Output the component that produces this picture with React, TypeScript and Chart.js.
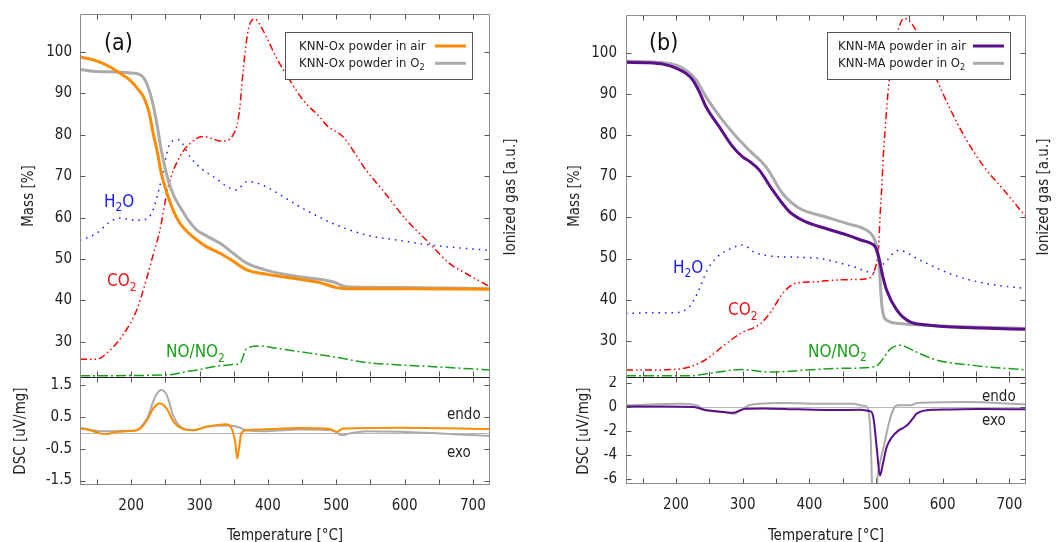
import React, { useEffect, useRef } from "react";
import { Chart, registerables } from "chart.js";
Chart.register(...registerables);

const FONT = "'DejaVu Sans Condensed', 'Liberation Sans', sans-serif";
const TXT = "#222222";
const X_MIN = 125;
const X_MAX = 725;
const xTickLabels = [200, 300, 400, 500, 600, 700];
const xTickMarks = [150, 200, 250, 300, 350, 400, 450, 500, 550, 600, 650, 700];
const massTicks = [30, 40, 50, 60, 70, 80, 90, 100];
const dscTicksA = [-1.5, -0.5, 0.5, 1.5];
const dscTicksB = [-6, -4, -2, 0, 2];

// ---------- Panel (a): KNN-Ox ----------
const aAirTemp = [125, 145, 169, 188, 198, 210, 218, 226, 232, 238, 244, 254, 262, 271, 283, 296, 310, 330, 349, 369, 400, 447, 476, 500, 510, 593, 725];
const aAirMass = [98.8, 98.1, 96.4, 94.4, 93.2, 91.0, 89.2, 85.5, 80.4, 76.0, 70.7, 65.1, 61.5, 58.7, 56.4, 54.6, 53.0, 51.4, 49.5, 47.4, 46.3, 45.1, 44.3, 43.1, 42.9, 42.8, 42.7];
const aO2Temp = [125, 149, 179, 203, 210, 215, 220, 225, 230, 237, 244, 254, 262, 271, 283, 296, 310, 330, 349, 369, 400, 447, 495, 515, 600, 725];
const aO2Mass = [95.8, 95.3, 95.2, 94.9, 94.7, 94.3, 93.3, 91.4, 88.6, 83.2, 76.3, 69.1, 65.4, 62.7, 59.5, 57.0, 55.6, 53.8, 51.4, 49.0, 47.2, 45.7, 44.5, 43.3, 43.1, 42.8];
const aCO2Temp = [125, 149, 169, 188, 208, 222, 232, 242, 254, 271, 286, 305, 320, 330, 340, 349, 355, 359, 364, 371, 381, 393, 412, 432, 452, 476, 486, 510, 544, 568, 603, 637, 666, 690, 725];
const aCO2 = [25.8, 25.8, 28.0, 31.7, 37.7, 45.0, 51.0, 57.0, 67.5, 74.7, 77.9, 79.6, 79.0, 78.5, 78.6, 80.0, 82.5, 86.8, 96.0, 105.2, 108.0, 105.2, 98.8, 93.2, 88.3, 84.3, 82.3, 79.5, 71.4, 66.6, 59.4, 53.7, 48.9, 46.5, 43.3];
const aH2OTemp = [125, 149, 169, 184, 203, 213, 225, 232, 244, 257, 269, 286, 300, 320, 354, 369, 378, 398, 447, 495, 544, 593, 642, 725];
const aH2O = [54.5, 56.2, 59.0, 59.9, 59.4, 59.4, 60.0, 61.9, 69.1, 78.0, 78.8, 74.7, 72.2, 69.9, 66.7, 68.7, 68.6, 67.4, 62.6, 58.6, 55.8, 54.5, 53.3, 52.1];
const aNOTemp = [125, 252, 281, 300, 320, 349, 359, 369, 388, 398, 447, 495, 544, 593, 642, 725];
const aNO = [21.8, 22.0, 22.8, 23.3, 24.0, 24.5, 24.8, 28.4, 29.0, 28.8, 27.6, 26.4, 25.0, 24.4, 24.0, 23.2];
const aDscAirTemp = [125, 140, 154, 164, 179, 203, 213, 223, 232, 242, 252, 262, 274, 291, 310, 339, 347, 352, 355, 358, 361, 369, 398, 447, 491, 500, 510, 593, 725];
const aDscAir = [0.13, 0.08, -0.02, -0.04, 0.03, 0.06, 0.13, 0.39, 0.76, 0.92, 0.76, 0.34, 0.13, 0.08, 0.19, 0.27, 0.13, -0.28, -0.81, -0.44, -0.02, 0.08, 0.11, 0.15, 0.12, 0.02, 0.13, 0.16, 0.12];
const aDscO2Temp = [125, 154, 203, 223, 235, 244, 252, 262, 274, 291, 310, 344, 359, 369, 398, 447, 495, 508, 520, 544, 593, 725];
const aDscO2 = [0.16, 0.05, 0.06, 0.45, 1.13, 1.34, 1.18, 0.50, 0.16, 0.08, 0.19, 0.23, 0.16, 0.08, 0.05, 0.10, 0.08, -0.08, -0.02, 0.05, 0.03, -0.1];

// ---------- Panel (b): KNN-MA ----------
const bAirTemp = [125, 157, 182, 200, 215, 225, 235, 245, 265, 285, 300, 312, 325, 345, 370, 395, 425, 457, 477, 492, 499, 504, 510, 516, 531, 551, 581, 607, 657, 725];
const bAirMass = [97.7, 97.6, 97.2, 96.3, 95.0, 93.4, 90.5, 86.9, 82.0, 77.2, 74.7, 73.4, 71.5, 66.6, 61.4, 58.9, 57.3, 55.7, 54.5, 53.7, 52.8, 50.4, 45.8, 42.3, 37.5, 34.6, 33.8, 33.4, 33.1, 32.8];
const bO2Temp = [125, 182, 200, 215, 230, 245, 270, 295, 310, 335, 360, 385, 425, 457, 486, 496, 500, 504, 509, 516, 536, 572, 725];
const bO2Mass = [98.0, 97.6, 97.0, 95.8, 93.5, 89.3, 83.6, 78.8, 76.3, 72.3, 65.8, 62.2, 60.1, 58.5, 56.9, 55.3, 53.5, 49.6, 38.3, 35.0, 34.2, 33.8, 33.0];
const bCO2Temp = [125, 157, 192, 222, 247, 272, 297, 327, 342, 362, 382, 407, 432, 467, 486, 496, 502, 504, 506, 509, 511, 514, 519, 527, 534, 542, 557, 572, 596, 612, 634, 662, 692, 725];
const bCO2 = [22.9, 22.9, 23.0, 23.7, 25.7, 28.9, 31.8, 34.2, 37.0, 41.9, 44.1, 44.3, 44.7, 44.9, 45.1, 46.4, 50.0, 53.0, 60.0, 68.3, 75.0, 82.0, 92.0, 101.0, 106.0, 108.4, 106.3, 100.6, 91.7, 86.1, 79.3, 72.3, 66.6, 60.1];
const bH2OTemp = [125, 157, 192, 217, 232, 247, 262, 282, 300, 317, 332, 382, 416, 466, 496, 512, 534, 566, 616, 666, 725];
const bH2O = [36.6, 36.8, 36.8, 37.8, 41.5, 47.2, 50.4, 52.4, 53.3, 51.6, 50.8, 50.3, 50.0, 48.0, 46.6, 48.8, 52.0, 49.6, 46.0, 43.9, 42.7];
const bNOTemp = [125, 222, 247, 297, 342, 397, 447, 499, 509, 520, 536, 560, 591, 641, 725];
const bNO = [21.5, 21.5, 22.0, 23.0, 22.4, 22.9, 23.3, 23.7, 25.3, 27.8, 28.9, 27.3, 25.3, 24.1, 22.9];
const bDscAirTemp = [125, 182, 227, 242, 257, 272, 287, 294, 304, 332, 382, 432, 477, 487, 493.5, 497, 501, 506, 510, 516, 524, 534, 542, 549, 556, 561, 586, 607, 657, 725];
const bDscAir = [0.05, 0.05, 0, -0.22, -0.33, -0.42, -0.47, -0.33, -0.14, -0.11, -0.19, -0.25, -0.22, -0.3, -0.42, -1.2, -3.33, -5.69, -4.8, -3.33, -2.5, -1.94, -1.7, -1.39, -0.9, -0.55, -0.22, -0.2, -0.17, -0.19];
const bDscO2Temp = [125, 207, 232, 242, 272, 287, 297, 312, 357, 432, 467, 477, 484, 489, 492, 495, 499, 503, 511.5, 520, 527, 533, 552, 562, 632, 725];
const bDscO2 = [0.14, 0.28, 0.14, -0.22, -0.42, -0.56, -0.28, 0.19, 0.33, 0.28, 0.28, 0.14, 0.1, -0.4, -2.5, -7.5, -7.5, -5.5, -3.33, -1.2, -0.1, 0.14, 0.14, 0.33, 0.42, 0.22];

const ORANGE = "#ff8c00";
const PURPLE = "#5a0f8c";
const GRAY = "#ababab";
const RED = "#ff0000";
const BLUE = "#1a1aff";
const GREEN = "#19a019";
const FRAME = "#8c8c8c";
const TICK = "#555555";

const RED_DASH = [7, 3, 1.5, 3, 1.5, 3];
const BLUE_DOT = [1.5, 5];
const GREEN_DASH = [10, 3, 2, 3];

type Part = { t: string; sub?: boolean };
type TextItem = { parts: Part[]; x: number; y: number; size: number; color: string; rotate?: boolean; center?: boolean };
type LegendSpec = { box: [number, number, number, number]; textX: number; baselines: number[]; lineX: [number, number]; lineY: number[]; items: { parts: Part[]; color: string }[] };

function pts(T: number[], V: number[]) {
  return T.map((t, i) => ({ x: t, y: V[i] }));
}
function series(label: string, T: number[], V: number[], color: string, width: number, dash: number[] = []) {
  return {
    label,
    data: pts(T, V),
    borderColor: color,
    backgroundColor: color,
    borderWidth: width,
    borderDash: dash,
    pointRadius: 0,
    cubicInterpolationMode: "monotone",
    fill: false,
  };
}

function drawRich(ctx: CanvasRenderingContext2D, parts: Part[], x: number, y: number, size: number, color: string, center = false) {
  let total = 0;
  for (const p of parts) {
    ctx.font = `${p.sub ? size * 0.7 : size}px ${FONT}`;
    total += ctx.measureText(p.t).width;
  }
  let cx = center ? x - total / 2 : x;
  ctx.fillStyle = color;
  ctx.textAlign = "left";
  ctx.textBaseline = "alphabetic";
  for (const p of parts) {
    ctx.font = `${p.sub ? size * 0.7 : size}px ${FONT}`;
    ctx.fillText(p.t, cx, p.sub ? y + size * 0.28 : y);
    cx += ctx.measureText(p.t).width;
  }
}

type Spec = {
  key: string;
  ox: number; oy: number; w: number; h: number;
  padding: { left: number; top: number; right: number; bottom: number };
  yMin: number; yMax: number; yTicks: number[]; yAxisWidth: number; yPad: number;
  showX: boolean; xAxisHeight: number;
  datasets: any[];
  zeroLine?: boolean;
  topBlack?: boolean; noBottom?: boolean;
  texts: TextItem[];
  legend?: LegendSpec;
};

function decor(s: Spec) {
  return {
    id: "decor" + s.key,
    beforeDatasetsDraw(chart: any) {
      if (!s.zeroLine) return;
      const { ctx, chartArea: a, scales } = chart;
      const y = Math.round(scales.y.getPixelForValue(0)) + 0.5;
      ctx.save();
      ctx.strokeStyle = "#b9b9b9";
      ctx.lineWidth = 1;
      ctx.beginPath();
      ctx.moveTo(a.left, y);
      ctx.lineTo(a.right, y);
      ctx.stroke();
      ctx.restore();
    },
    afterDatasetsDraw(chart: any) {
      const { ctx, chartArea: a, scales } = chart;
      ctx.save();
      ctx.lineWidth = 1;
      const L = Math.round(a.left) + 0.5;
      const R = Math.round(a.right) - 0.5;
      const T = Math.round(a.top) + 0.5;
      const B = Math.round(a.bottom) - 0.5;
      const seg = (x1: number, y1: number, x2: number, y2: number, c: string) => {
        ctx.strokeStyle = c;
        ctx.beginPath();
        ctx.moveTo(x1, y1);
        ctx.lineTo(x2, y2);
        ctx.stroke();
      };
      seg(L, T, L, B + 0.5, FRAME);
      seg(R, T, R, B + 0.5, FRAME);
      seg(L, T, R, T, s.topBlack ? "#1e1e1e" : FRAME);
      if (!s.noBottom) seg(L, B, R, B, FRAME);
      const tl = 5;
      for (const v of xTickMarks) {
        const px = Math.round(scales.x.getPixelForValue(v)) + 0.5;
        seg(px, T, px, T + tl, TICK);
        seg(px, B, px, B - tl, TICK);
      }
      for (const v of s.yTicks) {
        const py = Math.round(scales.y.getPixelForValue(v)) + 0.5;
        seg(L, py, L + tl, py, TICK);
        seg(R, py, R - tl, py, TICK);
      }
      // legend
      if (s.legend) {
        const lg = s.legend;
        const [bx, by, bw, bh] = lg.box;
        ctx.fillStyle = "#ffffff";
        ctx.fillRect(bx - s.ox, by - s.oy, bw, bh);
        ctx.strokeStyle = "#555";
        ctx.strokeRect(bx - s.ox + 0.5, by - s.oy + 0.5, bw - 1, bh - 1);
        lg.items.forEach((it, i) => {
          drawRich(ctx, it.parts, lg.textX - s.ox, lg.baselines[i] - s.oy, 13, TXT);
          ctx.strokeStyle = it.color;
          ctx.lineWidth = 3;
          ctx.beginPath();
          ctx.moveTo(lg.lineX[0] - s.ox, lg.lineY[i] - s.oy);
          ctx.lineTo(lg.lineX[1] - s.ox, lg.lineY[i] - s.oy);
          ctx.stroke();
          ctx.lineWidth = 1;
        });
      }
      // texts
      for (const t of s.texts) {
        if (t.rotate) {
          ctx.save();
          ctx.translate(t.x - s.ox, t.y - s.oy);
          ctx.rotate(-Math.PI / 2);
          ctx.font = `${t.size}px ${FONT}`;
          ctx.fillStyle = t.color;
          ctx.textAlign = "center";
          ctx.textBaseline = "middle";
          ctx.fillText(t.parts.map((p) => p.t).join(""), 0, 0);
          ctx.restore();
        } else {
          drawRich(ctx, t.parts, t.x - s.ox, t.y - s.oy, t.size, t.color, t.center);
        }
      }
      ctx.restore();
    },
  };
}

function buildConfig(s: Spec): any {
  return {
    type: "line",
    data: { datasets: s.datasets },
    options: {
      animation: false,
      responsive: false,
      devicePixelRatio: 1,
      events: [],
      layout: { padding: s.padding },
      plugins: { legend: { display: false }, tooltip: { enabled: false } },
      scales: {
        x: {
          type: "linear",
          min: X_MIN,
          max: X_MAX,
          display: s.showX,
          grid: { display: false, drawTicks: false },
          border: { display: false },
          afterBuildTicks: (sc: any) => {
            sc.ticks = xTickLabels.map((v) => ({ value: v }));
          },
          afterFit: (sc: any) => {
            sc.height = s.xAxisHeight;
            sc.paddingLeft = 0;
            sc.paddingRight = 0;
            sc.paddingTop = 0;
            sc.paddingBottom = 0;
          },
          ticks: {
            font: { family: FONT, size: 15 },
            color: TXT,
            padding: 12,
            autoSkip: false,
            maxRotation: 0,
            callback: (v: any) => String(v),
          },
        },
        y: {
          type: "linear",
          min: s.yMin,
          max: s.yMax,
          grid: { display: false, drawTicks: false },
          border: { display: false },
          afterBuildTicks: (sc: any) => {
            sc.ticks = s.yTicks.map((v) => ({ value: v }));
          },
          afterFit: (sc: any) => {
            sc.width = s.yAxisWidth;
            sc.paddingLeft = 0;
            sc.paddingRight = 0;
            sc.paddingTop = 0;
            sc.paddingBottom = 0;
          },
          ticks: {
            font: { family: FONT, size: 15 },
            color: TXT,
            padding: s.yPad,
            autoSkip: false,
            callback: (v: any) => String(v),
          },
        },
      },
    },
    plugins: [decor(s)],
  };
}

const P = (t: string, sub?: boolean): Part => ({ t, sub });

const specs: Spec[] = [
  {
    key: "aTop", ox: 0, oy: 0, w: 525, h: 378,
    padding: { left: 0, top: 14, right: 35, bottom: 1 },
    yMin: 21.5, yMax: 109.2, yTicks: massTicks, yAxisWidth: 80, yPad: 8,
    showX: false, xAxisHeight: 0, noBottom: true,
    datasets: [
      series("KNN-Ox powder in air", aAirTemp, aAirMass, ORANGE, 3),
      series("KNN-Ox powder in O2", aO2Temp, aO2Mass, GRAY, 3),
      series("CO2", aCO2Temp, aCO2, RED, 1.5, RED_DASH),
      series("H2O", aH2OTemp, aH2O, BLUE, 1.5, BLUE_DOT),
      series("NO/NO2", aNOTemp, aNO, GREEN, 1.5, GREEN_DASH),
    ],
    texts: [
      { parts: [P("Mass [%]")], x: 29, y: 196, size: 15, color: TXT, rotate: true },
      { parts: [P("Ionized gas [a.u.]")], x: 511, y: 197, size: 15, color: TXT, rotate: true },
      { parts: [P("(a)")], x: 104, y: 49.5, size: 23, color: "#111" },
      { parts: [P("H"), P("2", true), P("O")], x: 104, y: 206.7, size: 17, color: BLUE },
      { parts: [P("CO"), P("2", true)], x: 107, y: 286, size: 17, color: "#ee1111" },
      { parts: [P("NO/NO"), P("2", true)], x: 166, y: 357, size: 17, color: GREEN },
    ],
    legend: {
      box: [285, 32, 188, 48], textX: 299, baselines: [49.5, 66.5], lineX: [435, 466], lineY: [46, 63.3],
      items: [
        { parts: [P("KNN-Ox powder in air")], color: ORANGE },
        { parts: [P("KNN-Ox powder in O"), P("2", true)], color: GRAY },
      ],
    },
  },
  {
    key: "aDsc", ox: 0, oy: 376, w: 525, h: 166,
    padding: { left: 0, top: 1, right: 35, bottom: 0 },
    yMin: -1.64, yMax: 1.75, yTicks: dscTicksA, yAxisWidth: 80, yPad: 8,
    showX: true, xAxisHeight: 57, zeroLine: true, topBlack: true,
    datasets: [
      series("KNN-Ox powder in air", aDscAirTemp, aDscAir, ORANGE, 2),
      series("KNN-Ox powder in O2", aDscO2Temp, aDscO2, GRAY, 2),
    ],
    texts: [
      { parts: [P("DSC [uV/mg]")], x: 21, y: 431, size: 15, color: TXT, rotate: true },
      { parts: [P("Temperature [°C]")], x: 285, y: 540, size: 15, color: TXT, center: true },
      { parts: [P("endo")], x: 447, y: 419, size: 15, color: TXT },
      { parts: [P("exo")], x: 447, y: 457.3, size: 15, color: TXT },
    ],
  },
  {
    key: "bTop", ox: 530, oy: 0, w: 526, h: 378,
    padding: { left: 0, top: 15, right: 30, bottom: 1 },
    yMin: 21.2, yMax: 109.2, yTicks: massTicks, yAxisWidth: 96, yPad: 9,
    showX: false, xAxisHeight: 0, noBottom: true,
    datasets: [
      series("KNN-MA powder in air", bAirTemp, bAirMass, PURPLE, 3),
      series("KNN-MA powder in O2", bO2Temp, bO2Mass, GRAY, 3),
      series("CO2", bCO2Temp, bCO2, RED, 1.5, RED_DASH),
      series("H2O", bH2OTemp, bH2O, BLUE, 1.5, BLUE_DOT),
      series("NO/NO2", bNOTemp, bNO, GREEN, 1.5, GREEN_DASH),
    ],
    texts: [
      { parts: [P("Mass [%]")], x: 575.6, y: 196, size: 15, color: TXT, rotate: true },
      { parts: [P("Ionized gas [a.u.]")], x: 1044, y: 197, size: 15, color: TXT, rotate: true },
      { parts: [P("(b)")], x: 649, y: 49.5, size: 23, color: "#111" },
      { parts: [P("H"), P("2", true), P("O")], x: 673, y: 272.7, size: 17, color: BLUE },
      { parts: [P("CO"), P("2", true)], x: 728, y: 315, size: 17, color: "#ee1111" },
      { parts: [P("NO/NO"), P("2", true)], x: 808, y: 356.7, size: 17, color: GREEN },
    ],
    legend: {
      box: [827, 32, 184, 48], textX: 838, baselines: [49.5, 66.5], lineX: [973, 1004], lineY: [46, 63.3],
      items: [
        { parts: [P("KNN-MA powder in air")], color: PURPLE },
        { parts: [P("KNN-MA powder in O"), P("2", true)], color: GRAY },
      ],
    },
  },
  {
    key: "bDsc", ox: 530, oy: 376, w: 526, h: 166,
    padding: { left: 0, top: 1, right: 30, bottom: 0 },
    yMin: -6.4, yMax: 2.5, yTicks: dscTicksB, yAxisWidth: 96, yPad: 9,
    showX: true, xAxisHeight: 58, zeroLine: true, topBlack: true,
    datasets: [
      series("KNN-MA powder in air", bDscAirTemp, bDscAir, PURPLE, 2),
      series("KNN-MA powder in O2", bDscO2Temp, bDscO2, GRAY, 2),
    ],
    texts: [
      { parts: [P("DSC [uV/mg]")], x: 584, y: 431, size: 15, color: TXT, rotate: true },
      { parts: [P("Temperature [°C]")], x: 826, y: 540, size: 15, color: TXT, center: true },
      { parts: [P("endo")], x: 982, y: 400.7, size: 15, color: TXT },
      { parts: [P("exo")], x: 982, y: 425, size: 15, color: TXT },
    ],
  },
];

function ChartCanvas({ spec }: { spec: Spec }) {
  const ref = useRef<HTMLCanvasElement>(null);
  useEffect(() => {
    const chart = new Chart(ref.current as HTMLCanvasElement, buildConfig(spec));
    return () => chart.destroy();
  }, [spec]);
  return (
    <canvas
      ref={ref}
      width={spec.w}
      height={spec.h}
      style={{ position: "absolute", left: spec.ox, top: spec.oy, width: spec.w, height: spec.h }}
    />
  );
}

export default function App() {
  return (
    <div style={{ position: "fixed", left: 0, top: 0, width: 1056, height: 542, background: "#ffffff", overflow: "hidden" }}>
      {specs.map((s) => (
        <ChartCanvas key={s.key} spec={s} />
      ))}
    </div>
  );
}
